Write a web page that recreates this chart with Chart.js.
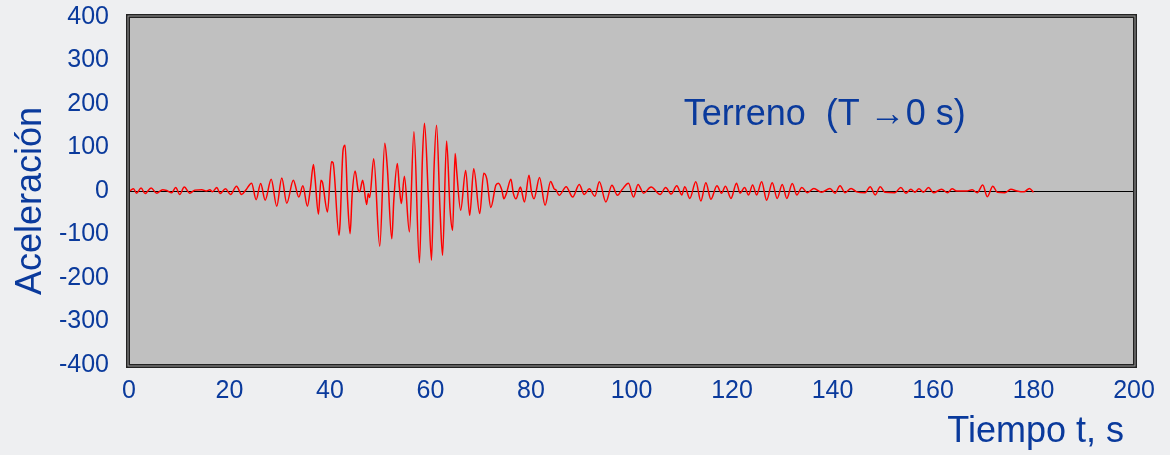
<!DOCTYPE html>
<html>
<head>
<meta charset="utf-8">
<script src="https://cdn.jsdelivr.net/npm/chart.js@4.4.0/dist/chart.umd.min.js"></script>
<style>
  html, body { margin: 0; padding: 0; background: #eeeff1; }
  #wrap { width: 1170px; height: 455px; }
</style>
</head>
<body>
<div id="wrap"><canvas id="accel" width="1170" height="455"></canvas></div>
<script>
// time (s) and ground acceleration
const tiempo = [
  0.0, 0.2, 0.9, 1.5, 2.4, 3.2, 4.4, 5.5, 6.7, 7.5, 8.5, 9.3, 10.1, 11.0, 12.1, 13.1, 14.5, 15.4, 16.1, 16.6,
  17.5, 18.1, 19.2, 20.2, 21.4, 22.4, 23.3, 24.4, 25.3, 26.2, 27.1, 28.3, 29.4, 30.4, 31.4, 32.7, 33.8, 34.6,
  35.5, 36.1, 36.7, 37.0, 37.7, 38.2, 38.5, 39.5, 40.3, 40.6, 41.8, 42.0, 42.6, 43.0, 43.5, 44.0, 44.4, 45.0,
  45.6, 45.9, 46.5, 47.3, 47.6, 47.9, 48.7, 49.9, 50.9, 51.4, 52.3, 52.7, 53.4, 53.8, 54.2, 54.8, 55.8, 56.7,
  57.8, 58.4, 58.8, 59.6, 60.2, 60.7, 61.2, 61.9, 62.4, 63.2, 63.9, 64.4, 64.9, 65.2, 66.0, 67.0, 67.8, 68.6,
  69.8, 70.6, 71.2, 72.0, 73.0, 73.5, 74.2, 74.6, 75.1, 76.0, 76.5, 77.0, 77.9, 78.1, 78.7, 79.6, 80.1, 80.6,
  81.7, 82.8, 83.9, 84.6, 85.0, 85.6, 87.0, 88.3, 89.6, 90.6, 91.6, 92.7, 93.6, 94.9, 96.1, 97.2, 98.1, 99.4,
  100.4, 101.3, 102.4, 103.9, 105.7, 106.8, 107.9, 109.0, 110.0, 110.6, 111.6, 112.8, 113.8, 114.8, 115.8,
  117.0, 117.9, 118.7, 119.8, 120.9, 121.6, 122.5, 123.3, 124.1, 124.9, 125.9, 126.9, 128.0, 129.0, 130.0,
  130.9, 132.0, 132.9, 133.9, 135.0, 136.3, 137.8, 139.5, 140.5, 141.5, 142.5, 143.7, 144.8, 146.5, 147.5,
  148.5, 149.5, 150.4, 152.4, 153.6, 154.6, 155.6, 156.4, 157.2, 158.1, 159.1, 160.1, 161.7, 162.9, 163.8,
  164.7, 166.7, 167.8, 168.8, 169.9, 170.8, 171.9, 172.8, 174.3, 175.5, 176.7, 178.1, 179.2, 180.0
];
const aceleracion = [
  0, 1, 5, -5, 7, -6, 7, -5, 3, 1, -4, 8, -8, 9, -5, 2, 3, 0, 3, -2,
  8, -6, 5, -8, 11, -8, 3, 18, -20, 17, -21, 27, -35, 30, -28, 25, -14, 12,
  -35, 6, 61, 32, -53, 25, 20, -48, 67, 65, -102, -75, 94, 105, -21, -98, -10, 46,
  3, -2, 25, -31, -6, -15, 74, -127, 110, 55, -110, -21, 63, 9, -29, 34, -94, 136,
  -165, 78, 156, -21, -159, 51, 151, -44, -148, 115, -44, -90, 86, 47, -44, 47, -56, 51,
  -52, 41, 28, -38, 13, 18, 2, -18, -6, 27, -6, -18, 9, 2, -25, 36, -2, -18,
  31, -33, 22, 5, 2, -10, 10, -14, 15, -8, 5, -12, 21, -25, 13, -10, 3, 18,
  -14, 15, -5, 9, -8, 8, -7, 12, -9, 10, -17, 21, -23, 19, -19,
  12, -5, 11, -17, 18, -5, 8, -9, 14, -9, 21, -21, 19, -17, 15,
  -17, 17, -9, 8, -4, 6, -3, 6, -5, 12, -4, 6, -2, -4, 10,
  -9, 10, -3, -4, 8, -5, 4, -3, 5, -3, 8, -4, 4, -4, 5,
  0, 0, 3, -4, 14, -13, 11, -3, -4, 4, 0, -2, 6, -3
];
const yTicks = [-400, -300, -200, -100, 0, 100, 200, 300, 400];
const xTicks = [0, 20, 40, 60, 80, 100, 120, 140, 160, 180, 200];

const azul = '#0a3a9c';
const fuente = 'Liberation Sans, Arial, sans-serif';

const plotBg = {
  id: 'plotBg',
  beforeDraw(chart) {
    const { ctx, chartArea: a } = chart;
    ctx.save();
    ctx.fillStyle = '#c0c0c0';
    ctx.fillRect(a.left, a.top, a.right - a.left, a.bottom - a.top);
    ctx.restore();
  }
};

const marco = {
  id: 'marco',
  afterDraw(chart) {
    const { ctx, chartArea: a } = chart;
    ctx.save();
    ctx.strokeStyle = '#222';
    ctx.lineWidth = 4;
    ctx.strokeRect(a.left - 1, a.top - 1, a.right - a.left + 2, a.bottom - a.top + 2);
    ctx.strokeStyle = '#9a9a9a';
    ctx.lineWidth = 1;
    ctx.strokeRect(a.left - 1, a.top - 1, a.right - a.left + 2, a.bottom - a.top + 2);
    ctx.restore();
  }
};

const rotulo = {
  id: 'rotulo',
  afterDatasetsDraw(chart) {
    const { ctx, scales: { x, y } } = chart;
    ctx.save();
    ctx.font = '36px ' + fuente;
    ctx.fillStyle = azul;
    ctx.textAlign = 'left';
    ctx.textBaseline = 'middle';
    ctx.fillText('Terreno  (T \u21920 s)', x.getPixelForValue(110.4), y.getPixelForValue(174));
    ctx.restore();
  }
};

new Chart(document.getElementById('accel'), {
  type: 'line',
  data: {
    datasets: [{
      data: tiempo.map((t, i) => ({ x: t, y: aceleracion[i] })),
      borderColor: '#ff0000',
      borderWidth: 1.5,
      pointRadius: 0,
      cubicInterpolationMode: 'monotone',
      fill: false
    }]
  },
  options: {
    responsive: false,
    devicePixelRatio: 1,
    animation: false,
    layout: { padding: { left: 0, right: 36, top: 17, bottom: 0 } },
    plugins: { legend: { display: false }, tooltip: { enabled: false } },
    scales: {
      x: {
        type: 'linear',
        min: 0,
        max: 200,
        afterBuildTicks: (s) => { s.ticks = xTicks.map(v => ({ value: v })); },
        afterFit: (s) => { s.height = 90; },
        grid: { display: false },
        border: { display: false },
        ticks: { color: azul, font: { family: fuente, size: 25 }, padding: 3, maxRotation: 0, autoSkip: false },
        title: {
          display: true,
          text: 'Tiempo t, s ',
          align: 'end',
          color: azul,
          font: { family: fuente, size: 36 },
          padding: { top: 0, bottom: 1 }
        }
      },
      y: {
        min: -400,
        max: 400,
        afterBuildTicks: (s) => { s.ticks = yTicks.map(v => ({ value: v })); },
        afterFit: (s) => { s.width = 129; s.paddingTop = 0; s.paddingBottom = 0; },
        grid: {
          drawTicks: false,
          color: (c) => (c.tick && c.tick.value === 0 ? '#000' : 'rgba(0,0,0,0)'),
          lineWidth: 1
        },
        border: { display: false },
        ticks: { color: azul, font: { family: fuente, size: 25 }, padding: 20 },
        title: {
          display: true,
          text: 'Aceleración  ',
          color: azul,
          font: { family: fuente, size: 36 },
          padding: { top: 9, bottom: 0 }
        }
      }
    }
  },
  plugins: [plotBg, marco, rotulo]
});
</script>
</body>
</html>
